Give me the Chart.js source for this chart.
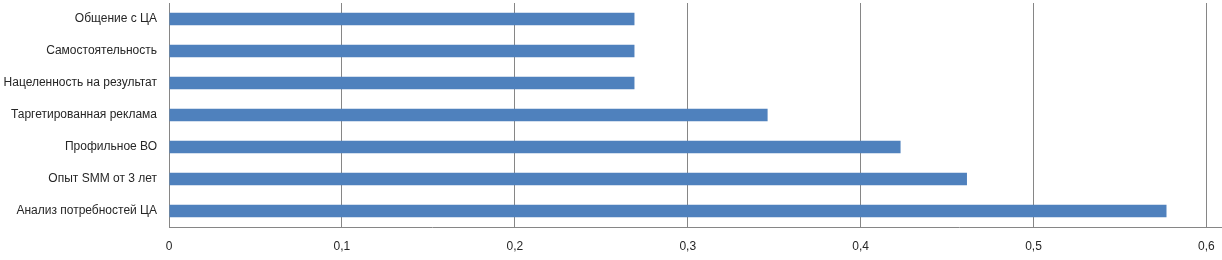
<!DOCTYPE html>
<html><head><meta charset="utf-8">
<script src="https://cdn.jsdelivr.net/npm/chart.js@4"></script>
<style>html,body{margin:0;padding:0;background:#fff}#wrap{width:1222px;height:260px}</style>
</head><body><div id="wrap"><canvas id="c" width="1222" height="260"></canvas></div>
<script>
const categories = ["Общение с ЦА","Самостоятельность","Нацеленность на результат","Таргетированная реклама","Профильное ВО","Опыт SMM от 3 лет","Анализ потребностей ЦА"];
const values = [0.2692,0.2692,0.2692,0.3462,0.4231,0.4615,0.5769];
const tickValues = [0,0.1,0.2,0.3,0.4,0.5,0.6];
const fmt = v => String(Math.round(v*10)/10).replace('.',',');
new Chart(document.getElementById('c'), {
  type:'bar',
  data:{labels:categories,datasets:[{data:values,backgroundColor:'#4F81BD',borderWidth:0,barPercentage:1,categoryPercentage:0.39}]},
  options:{
    indexAxis:'y',responsive:false,animation:false,
    layout:{padding:{top:3,right:0,left:0,bottom:0}},
    plugins:{legend:{display:false},tooltip:{enabled:false}},
    scales:{
      x:{min:0,max:0.609,
        afterBuildTicks:s=>{s.ticks=tickValues.map(v=>({value:v}));},
        afterFit:s=>{s.height=33;s.paddingLeft=0;s.paddingRight=0;s.paddingTop=0;s.paddingBottom=0;},
        grid:{color:'#868686',lineWidth:1,drawTicks:false},
        border:{color:'#868686'},
        ticks:{padding:12,color:'#262626',font:{family:'Liberation Sans',size:12},callback:v=>fmt(v),maxRotation:0}
      },
      y:{
        afterFit:s=>{s.width=169;s.paddingLeft=0;s.paddingRight=0;s.paddingTop=0;s.paddingBottom=0;},
        grid:{display:false,drawTicks:false},
        border:{color:'#868686'},
        ticks:{padding:12,color:'#262626',font:{family:'Liberation Sans',size:12}}
      }
    }
  }
});
</script></body></html>
